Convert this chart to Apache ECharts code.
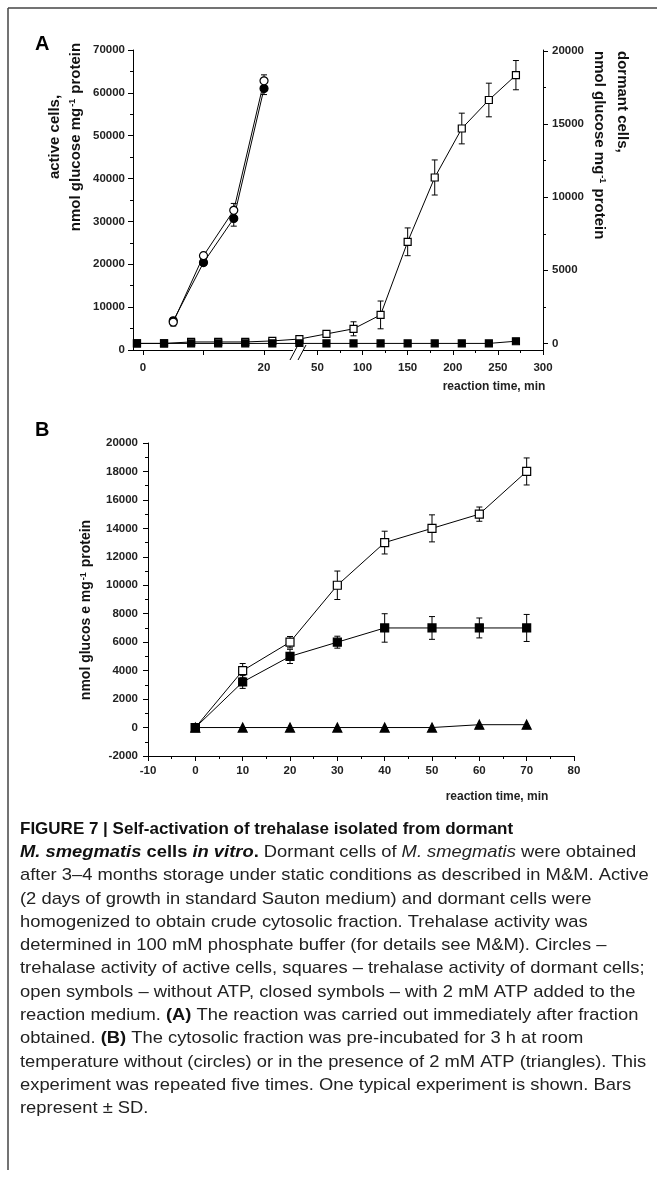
<!DOCTYPE html>
<html>
<head>
<meta charset="utf-8">
<script src="https://cdn.jsdelivr.net/npm/echarts@6/dist/echarts.min.js"></script>
<style>
  html, body { margin: 0; padding: 0; background: #fff; }
  #main { width: 657px; height: 1180px; }
</style>
</head>
<body>
<div id="main"></div>
<script>
// ---- panel A, active cells (left axis), min
var activeTime = [5, 10, 15, 20];
var activeOpen = [6500, 22000, 32600, 62800];
var activeOpenErr = [900, 600, 1600, 1400];
var activeClosed = [6800, 20400, 30700, 61000];
var activeClosedErr = [700, 500, 1800, 1400];

// ---- panel A, dormant cells (right axis)
var dormantTime = [-150, -120, -90, -60, -30, 0, 30, 60, 90, 120, 150, 180, 210, 240, 270];
var dormantOpen = [0, 0, 100, 100, 100, 170, 300, 650, 1000, 1950, 6950, 11350, 14700, 16650, 18350];
var dormantOpenErr = [0, 0, 0, 0, 0, 0, 0, 0, 480, 950, 950, 1200, 1050, 1150, 1000];
var dormantClosed = [0, 0, 0, 0, 0, 0, 0, 0, 0, 0, 0, 0, 0, 0, 150];

// ---- panel B
var timeB = [0, 10, 20, 30, 40, 50, 60, 70];
var openB = [0, 4000, 6000, 10000, 13000, 14000, 15000, 18000];
var openBErr = [0, 500, 400, 1000, 800, 950, 500, 950];
var closedB = [0, 3200, 5000, 6000, 7000, 7000, 7000, 7000];
var closedBErr = [0, 450, 500, 420, 1000, 800, 700, 950];
var triangleB = [0, 0, 0, 0, 0, 0, 200, 200];

// tick labels
var activeTicks = [0, 10, 20];
var activeLabels = [0, 20];
var dormantLabels = [50, 100, 150, 200, 250, 300];
var dormantMinor = [75, 125, 175, 225, 275];
var rightLabels = [0, 5000, 10000, 15000, 20000];
var rightMinor = [2500, 7500, 12500, 17500];

var FONT = '"Liberation Sans", Arial, Helvetica, sans-serif';
var INK = '#000';

function pairs(xs, ys) {
  var out = [];
  for (var i = 0; i < xs.length; i++) out.push([xs[i], ys[i]]);
  return out;
}
function errData(xs, ys, es) {
  var out = [];
  for (var i = 0; i < xs.length; i++) {
    if (es[i]) out.push([xs[i], ys[i] - es[i], ys[i] + es[i]]);
  }
  return out;
}
function errBar(params, api) {
  var lo = api.coord([api.value(0), api.value(1)]);
  var hi = api.coord([api.value(0), api.value(2)]);
  var w = 3;
  var st = { stroke: INK, lineWidth: 1 };
  return {
    type: 'group',
    children: [
      { type: 'line', shape: { x1: lo[0], y1: lo[1], x2: hi[0], y2: hi[1] }, style: st },
      { type: 'line', shape: { x1: lo[0] - w, y1: lo[1], x2: lo[0] + w, y2: lo[1] }, style: st },
      { type: 'line', shape: { x1: hi[0] - w, y1: hi[1], x2: hi[0] + w, y2: hi[1] }, style: st }
    ]
  };
}
function errSeries(xi, yi, data) {
  return {
    type: 'custom', xAxisIndex: xi, yAxisIndex: yi, renderItem: errBar,
    encode: { x: 0, y: [1, 2] }, data: data, silent: true, clip: false
  };
}
function lineSeries(xi, yi, data, symbol, size, filled) {
  return {
    type: 'line', xAxisIndex: xi, yAxisIndex: yi, data: data,
    symbol: symbol, symbolSize: size, showAllSymbol: true,
    lineStyle: { color: INK, width: 1 },
    itemStyle: { color: filled ? INK : '#fff', borderColor: INK, borderWidth: 1.2 },
    emphasis: { disabled: true }, clip: false
  };
}
function num(v) { return String(v); }

var labelStyle = { color: '#222', fontSize: 11.5, fontWeight: 'bold', fontFamily: FONT, formatter: num };
var axLine = { show: true, onZero: false, lineStyle: { color: INK, width: 1 } };
var noLine = { show: false, onZero: false };
var tickLine = { color: INK, width: 1 };

var chart = echarts.init(document.getElementById('main'), null, { renderer: 'canvas' });

var option = {
  animation: false,
  backgroundColor: '#fff',
  grid: [
    { left: 133, top: 50, width: 410, height: 300, outerBoundsMode: 'none' },
    { left: 148, top: 443, width: 426, height: 313, outerBoundsMode: 'none' }
  ],
  xAxis: [
    { // active cells time axis, 0-20 min
      gridIndex: 0, type: 'value', position: 'bottom', min: -1.65, max: 66.1,
      axisLine: axLine,
      axisTick: { show: true, length: 5, customValues: activeTicks, lineStyle: tickLine },
      axisLabel: Object.assign({ customValues: activeLabels, margin: 12 }, labelStyle),
      splitLine: { show: false }
    },
    { // dormant cells time axis
      gridIndex: 0, type: 'value', position: 'bottom', min: -154.4, max: 300,
      axisLine: noLine,
      axisTick: { show: true, length: 5, customValues: dormantLabels, lineStyle: tickLine },
      axisLabel: Object.assign({ customValues: dormantLabels, margin: 12 }, labelStyle),
      splitLine: { show: false }
    },
    { // minor ticks of dormant axis
      gridIndex: 0, type: 'value', position: 'bottom', min: -154.4, max: 300,
      axisLine: noLine,
      axisTick: { show: true, length: 3, customValues: dormantMinor, lineStyle: tickLine },
      axisLabel: { show: false },
      splitLine: { show: false }
    },
    { // panel B
      gridIndex: 1, type: 'value', min: -10, max: 80, interval: 10,
      axisLine: axLine,
      axisTick: { show: true, length: 5, lineStyle: tickLine },
      minorTick: { show: true, splitNumber: 2, length: 3, lineStyle: tickLine },
      axisLabel: Object.assign({ margin: 9 }, labelStyle),
      splitLine: { show: false }
    }
  ],
  yAxis: [
    { // active cells
      gridIndex: 0, type: 'value', position: 'left', min: 0, max: 70000, interval: 10000,
      axisLine: axLine,
      axisTick: { show: true, length: 5, lineStyle: tickLine },
      minorTick: { show: true, splitNumber: 2, length: 3, lineStyle: tickLine },
      axisLabel: Object.assign({ margin: 8 }, labelStyle),
      splitLine: { show: false }
    },
    { // dormant cells
      gridIndex: 0, type: 'value', position: 'right', min: -450, max: 20070,
      axisLine: axLine,
      axisTick: { show: true, length: 5, customValues: rightLabels, lineStyle: tickLine },
      axisLabel: Object.assign({ customValues: rightLabels, margin: 9 }, labelStyle),
      splitLine: { show: false }
    },
    { // minor ticks of dormant axis
      gridIndex: 0, type: 'value', position: 'right', min: -450, max: 20070,
      axisLine: noLine,
      axisTick: { show: true, length: 3, customValues: rightMinor, lineStyle: tickLine },
      axisLabel: { show: false },
      splitLine: { show: false }
    },
    { // panel B
      gridIndex: 1, type: 'value', min: -2000, max: 20000, interval: 2000,
      axisLine: axLine,
      axisTick: { show: true, length: 5, lineStyle: tickLine },
      minorTick: { show: true, splitNumber: 2, length: 3, lineStyle: tickLine },
      axisLabel: Object.assign({ margin: 10 }, labelStyle),
      splitLine: { show: false }
    }
  ],
  series: [
    errSeries(1, 1, errData(dormantTime, dormantOpen, dormantOpenErr)),
    lineSeries(1, 1, pairs(dormantTime, dormantOpen), 'rect', 7, false),
    lineSeries(1, 1, pairs(dormantTime, dormantClosed), 'rect', 7, true),
    errSeries(0, 0, errData(activeTime, activeClosed, activeClosedErr)),
    errSeries(0, 0, errData(activeTime, activeOpen, activeOpenErr)),
    lineSeries(0, 0, pairs(activeTime, activeClosed), 'circle', 8, true),
    lineSeries(0, 0, pairs(activeTime, activeOpen), 'circle', 8, false),

    errSeries(3, 3, errData(timeB, openB, openBErr)),
    errSeries(3, 3, errData(timeB, closedB, closedBErr)),
    lineSeries(3, 3, pairs(timeB, triangleB), 'triangle', 9, true),
    lineSeries(3, 3, pairs(timeB, openB), 'rect', 8, false),
    lineSeries(3, 3, pairs(timeB, closedB), 'rect', 8, true)
  ],
  graphic: []
};

// frame, panel letters, axis titles, axis break
var g = option.graphic;
var frameStyle = { stroke: '#444', lineWidth: 1.5 };
g.push({ type: 'line', shape: { x1: 8, y1: 8, x2: 657, y2: 8 }, style: frameStyle, silent: true });
g.push({ type: 'line', shape: { x1: 8, y1: 8, x2: 8, y2: 1170 }, style: frameStyle, silent: true });

function txt(x, y, text, opts) {
  var o = opts || {};
  return {
    type: 'text', x: x, y: y, rotation: o.rotation || 0, scaleX: o.scaleX || 1, silent: true,
    style: {
      text: text,
      fill: o.fill || '#111',
      fontSize: o.fontSize || 12,
      fontWeight: o.fontWeight || 'normal',
      fontFamily: FONT,
      align: o.align || 'left', textAlign: o.align || 'left',
      verticalAlign: 'middle', textVerticalAlign: 'middle',
      rich: o.rich
    }
  };
}

g.push(txt(35, 44, 'A', { fontSize: 20, fontWeight: 'bold', fill: '#000' }));
g.push(txt(35, 430, 'B', { fontSize: 20, fontWeight: 'bold', fill: '#000' }));

var titleRich = {
  t: { fontSize: 15, fontWeight: 'bold', fontFamily: FONT, fill: '#111' },
  s: { fontSize: 9, fontWeight: 'bold', fontFamily: FONT, fill: '#111', verticalAlign: 'top', padding: [0, 1, 0, 1] }
};
var titleRichB = {
  t: { fontSize: 14, fontWeight: 'bold', fontFamily: FONT, fill: '#111' },
  s: { fontSize: 9, fontWeight: 'bold', fontFamily: FONT, fill: '#111', verticalAlign: 'top', padding: [0, 1, 0, 1] }
};
var up = Math.PI / 2;
g.push(txt(55, 137, '{t|active cells,}', { rotation: up, align: 'center', rich: titleRich }));
g.push(txt(76, 137, '{t|nmol glucose mg}{s|-1}{t| protein}', { rotation: up, align: 'center', rich: titleRich }));
g.push(txt(622, 51, '{t|dormant cells,}', { rotation: -up, align: 'left', rich: titleRich }));
g.push(txt(599, 51, '{t|nmol glucose mg}{s|-1}{t| protein}', { rotation: -up, align: 'left', rich: titleRich }));
g.push(txt(86, 610, '{t|nmol glucos e mg}{s|-1}{t| protein}', { rotation: up, align: 'center', rich: titleRichB }));

g.push(txt(494, 387, 'reaction time, min', { fontSize: 12, fontWeight: 'bold', fill: '#222', align: 'center' }));
g.push(txt(497, 797, 'reaction time, min', { fontSize: 12, fontWeight: 'bold', fill: '#222', align: 'center' }));

// axis break marks
var brk = { stroke: INK, lineWidth: 1 };
g.push({ type: 'rect', shape: { x: 293, y: 347, width: 10, height: 6 }, style: { fill: '#fff' }, silent: true, z: 10 });
g.push({ type: 'line', shape: { x1: 290, y1: 360, x2: 298, y2: 345 }, style: brk, silent: true, z: 11 });
g.push({ type: 'line', shape: { x1: 298, y1: 360, x2: 306, y2: 345 }, style: brk, silent: true, z: 11 });

// caption
var CAP = 17;
var capRich = {
  n: { fontSize: CAP, fontFamily: FONT, fill: '#222' },
  i: { fontSize: CAP, fontFamily: FONT, fill: '#222', fontStyle: 'italic' },
  b: { fontSize: CAP, fontFamily: FONT, fill: '#111', fontWeight: 'bold' },
  bi: { fontSize: CAP, fontFamily: FONT, fill: '#111', fontWeight: 'bold', fontStyle: 'italic' }
};
var captionLines = [
  '{b|FIGURE 7 | Self-activation of trehalase isolated from dormant}',
  '{bi|M. smegmatis}{b| cells }{bi|in vitro}{b|.}{n| Dormant cells of }{i|M. smegmatis}{n| were obtained}',
  '{n|after 3\u20134 months storage under static conditions as described in M&M. Active}',
  '{n|(2 days of growth in standard Sauton medium) and dormant cells were}',
  '{n|homogenized to obtain crude cytosolic fraction. Trehalase activity was}',
  '{n|determined in 100 mM phosphate buffer (for details see M&M). Circles \u2013}',
  '{n|trehalase activity of active cells, squares \u2013 trehalase activity of dormant cells;}',
  '{n|open symbols \u2013 without ATP, closed symbols \u2013 with 2 mM ATP added to the}',
  '{n|reaction medium. }{b|(A)}{n| The reaction was carried out immediately after fraction}',
  '{n|obtained. }{b|(B)}{n| The cytosolic fraction was pre-incubated for 3 h at room}',
  '{n|temperature without (circles) or in the presence of 2 mM ATP (triangles). This}',
  '{n|experiment was repeated five times. One typical experiment is shown. Bars}',
  '{n|represent \u00b1 SD.}'
];
for (var k = 0; k < captionLines.length; k++) {
  g.push(txt(20, 829 + k * 23.3, captionLines[k], { rich: capRich, scaleX: k === 0 ? 1 : 1.08 }));
}

chart.setOption(option);
window.addEventListener('resize', function () {
  chart.resize();
});
</script>
</body>
</html>
